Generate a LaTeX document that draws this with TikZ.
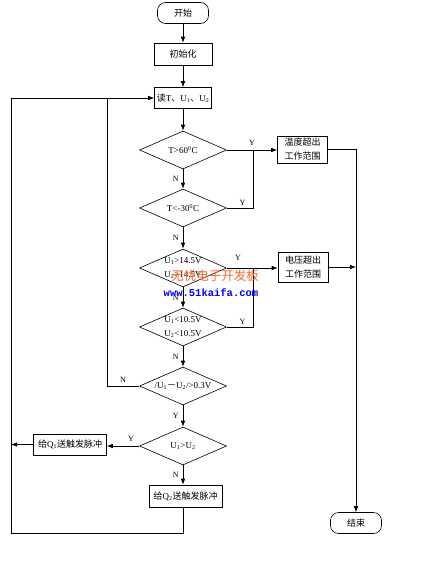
\documentclass[tikz,border=0pt]{standalone}
\usepackage{fontspec}
\setmainfont{Liberation Serif}
\setmonofont{Liberation Mono}
\newfontfamily\cjk{Noto Sans CJK SC}
\usetikzlibrary{shapes.geometric,arrows.meta}
\definecolor{wmorange}{RGB}{250,105,40}
\tikzset{
  box/.style={draw, rectangle, minimum width=58pt, minimum height=22pt, inner sep=1pt, align=center},
  term/.style={draw, rectangle, rounded corners=8pt, minimum width=51pt, minimum height=21pt},
  dec/.style={draw, diamond, shape aspect=2.3, minimum width=87pt, minimum height=38pt, inner sep=-5pt, align=center},
  arr/.style={-{Latex[length=6pt,width=4.5pt]}},
  lab/.style={font=\fontsize{8}{8}\selectfont, inner sep=1pt},
}
\begin{document}
\begin{tikzpicture}[x=1pt, y=-1pt, line width=0.6pt, font=\fontsize{9}{11}\selectfont]
  \useasboundingbox (0,0) rectangle (433,573);
  % main column
  \node[term] (start) at (183,13) {\cjk 开始};
  \node[box] (init) at (183,54) {\cjk 初始化};
  \node[box, minimum width=57pt, minimum height=21pt] (read) at (183,98) {{\cjk 读}T{\cjk 、}U\textsubscript{1}{\cjk 、}U\textsubscript{2}};
  \node[dec] (d1) at (183,150) {T>60\textsuperscript{0}C};
  \node[dec] (d2) at (183,208) {T<-30\textsuperscript{0}C};
  \node[dec] (d3) at (183,268) {U\textsubscript{1}>14.5V\\[3pt]U\textsubscript{2}>14.5V};
  \node[dec] (d4) at (183,327) {U\textsubscript{1}<10.5V\\[3pt]U\textsubscript{2}<10.5V};
  \node[dec] (d5) at (183,386) {/U\textsubscript{1}{\cjk －}U\textsubscript{2}/>0.3V};
  \node[dec] (d6) at (183,446) {U\textsubscript{1}>U\textsubscript{2}};
  \node[box, minimum width=73pt] (q2) at (185.5,496) {{\cjk 给}Q\textsubscript{2}{\cjk 送触发脉冲}};
  % side boxes
  \node[box, minimum width=50pt, minimum height=27pt] (tbox) at (302.5,149.5) {\cjk 温度超出\\[3pt]\cjk 工作范围};
  \node[box, minimum width=50pt, minimum height=30pt] (vbox) at (303,267) {\cjk 电压超出\\[3pt]\cjk 工作范围};
  \node[box, minimum width=73pt, minimum height=21pt] (q1) at (70,444.5) {{\cjk 给}Q\textsubscript{1}{\cjk 送触发脉冲}};
  \node[term] (end) at (356,523) {\cjk 结束};
  \coordinate (joinT) at (253,150);
  \coordinate (joinV) at (253,268);
  \coordinate (loopN) at (107,98);
  \coordinate (loopL) at (11,533);
  % connectors
  \draw[arr] (start) -- (init);
  \draw[arr] (init) -- (read);
  \draw[arr] (read) -- (d1);
  \draw[arr] (d1) -- node[lab, left=3pt] {N} (d2);
  \draw[arr] (d2) -- node[lab, left=3pt] {N} (d3);
  \draw[arr] (d3) -- node[lab, left=3pt] {N} (d4);
  \draw[arr] (d4) -- node[lab, left=3pt] {N} (d5);
  \draw[arr] (d5) -- node[lab, left=3pt] {Y} (d6);
  \draw[arr] (d6) -- node[lab, left=3pt] {N} (d6.south |- q2.north);
  \draw[arr] (d1.east) -- (d1.east -| tbox.west);
  \node[lab] at (252,143) {Y};
  \draw (d2.east) -| node[lab, pos=0.3, above=1pt] {Y} (joinT);
  \draw[arr] (d3.east) -- (d3.east -| vbox.west);
  \node[lab] at (238,258) {Y};
  \draw (d4.east) -| node[lab, pos=0.3, above=1pt] {Y} (joinV);
  \draw[arr] (tbox.east) -| (end.north);
  \draw[arr] (vbox.east) -- (end.north |- vbox.east);
  \draw (d5.west) -| node[lab, pos=0.25, above=2pt] {N} (loopN);
  \draw[arr] (d6.west) -- node[lab, above=3pt, pos=0.25] {Y} (d6.west -| q1.east);
  \draw[arr] (q1.west) -- (loopL |- q1.west);
  \draw[arr] (d6.south |- q2.south) |- (loopL) |- (read.west);
  % watermark
  \node[text=wmorange, font=\cjk\fontsize{12.5}{13}\selectfont] (wm1) at (215,276) {无忧电子开发板};
  \node[text=blue, font=\ttfamily\bfseries\fontsize{10.5}{11}\selectfont] (wm2) at (211,293) {www.51kaifa.com};
\end{tikzpicture}
\end{document}
